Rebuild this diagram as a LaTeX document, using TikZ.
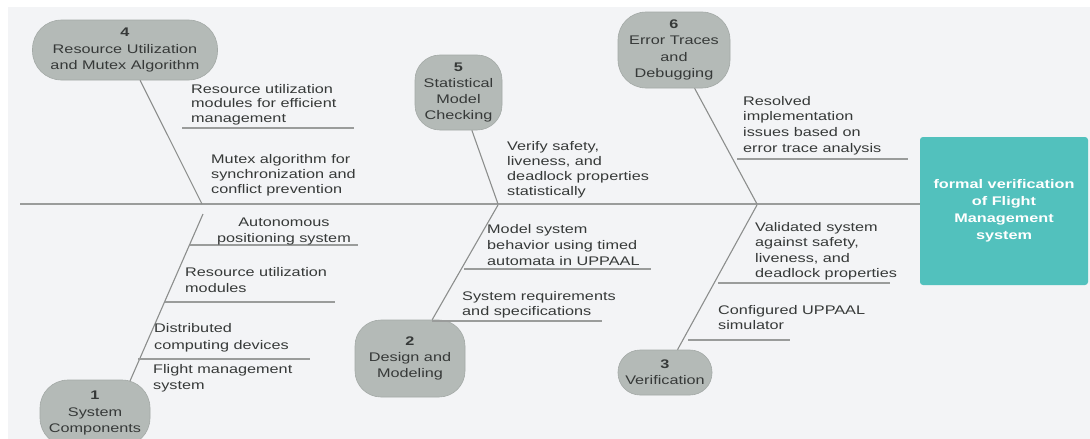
\documentclass[tikz,border=0pt]{standalone}
\usepackage{fontspec}
\setmainfont{Liberation Sans}[FakeStretch=1.3]
\definecolor{bgcol}{HTML}{F3F4F6}
\definecolor{nodefill}{HTML}{B4BAB7}
\definecolor{nodeedge}{HTML}{A3A9A6}
\definecolor{txtcol}{HTML}{363938}
\definecolor{headteal}{HTML}{52C1BD}
\definecolor{bonecol}{HTML}{8C8E8D}
\definecolor{subcol}{HTML}{9A9C9B}
\newcommand\ltab[1]{\begin{tabular}[t]{@{}l@{}}#1\end{tabular}}
\newcommand\ctab[1]{\begin{tabular}[t]{@{}c@{}}#1\end{tabular}}
\tikzset{
  cat/.style={fill=nodefill, draw=nodeedge, line width=0.6pt, text=txtcol, align=center,
    inner sep=0pt, font=\fontsize{12.5}{16.2}\selectfont},
  lbl/.style={inner sep=0pt, text=txtcol, font=\fontsize{12.5}{15.5}\selectfont},
  spine/.style={draw=subcol, line width=1.5pt},
  bone/.style={draw=bonecol, line width=1.1pt},
  sub/.style={draw=subcol, line width=1.3pt},
}
\begin{document}
\begin{tikzpicture}[x=1pt,y=-1pt]
\useasboundingbox (0,0) rectangle (1090,439);
\clip (0,0) rectangle (1090,439);
\fill[bgcol] (8,7) rectangle (1090,439);

% head
\node[fill=headteal, rounded corners=3pt, minimum width=168pt, minimum height=148pt, inner sep=0pt,
  text=white, align=center, font=\fontsize{12.5}{17}\selectfont\bfseries] (head) at (1004,211)
  {formal verification\\of Flight\\Management\\system};

% category nodes
\node[cat, minimum width=185pt, minimum height=60pt, rounded corners=29pt] (n4) at (125,50)
  {\textbf{4}\\Resource Utilization\\and Mutex Algorithm};
\node[cat, minimum width=87pt, minimum height=75pt, rounded corners=25pt] (n5) at (458.5,92.5)
  {\textbf{5}\\Statistical\\Model\\Checking};
\node[cat, minimum width=112pt, minimum height=76pt, rounded corners=28pt] (n6) at (674,50)
  {\textbf{6}\\Error Traces\\and\\Debugging};
\node[cat, minimum width=110pt, minimum height=66pt, rounded corners=28pt] (n1) at (95,413)
  {\textbf{1}\\System\\Components};
\node[cat, minimum width=110pt, minimum height=77pt, rounded corners=26pt] (n2) at (410,358.5)
  {\textbf{2}\\Design and\\Modeling};
\node[cat, minimum width=94pt, minimum height=45pt, rounded corners=22pt] (n3) at (665,372.5)
  {\textbf{3}\\Verification};

% spine
\coordinate (s0) at (20,204);
\draw[spine] (s0) -- (s0 -| head.west);

% bones
\coordinate (j4) at (202,204);
\coordinate (j5) at (498,204);
\coordinate (j6) at (757,204);
\coordinate (j1) at (203,214);
\coordinate (b1) at (130,381);
\coordinate (j2) at (498,205);
\coordinate (j3) at (757,205);
\draw[bone] (j4) -- (n4);
\draw[bone] (j5) -- (n5);
\draw[bone] (j6) -- (n6);
\draw[bone] (j1) -- (b1);
\draw[bone] (j2) -- (n2);
\draw[bone] (j3) -- (n3);

% sub-bone underlines
\draw[sub] (182,128) -- (354,128);
\draw[sub] (737,159) -- (908,159);
\draw[sub] (190,245) -- (358,245);
\draw[sub] (165,302) -- (335,302);
\draw[sub] (138,359) -- (310,359);
\draw[sub] (464,269) -- (651,269);
\draw[sub] (432,321) -- (602,321);
\draw[sub] (718,283) -- (890,283);
\draw[sub] (688,340) -- (790,340);

% labels
\node[lbl, anchor=base west, font=\fontsize{12.5}{14.5}\selectfont] (t4a) at (191,93)
  {\ltab{Resource utilization\\modules for efficient\\management}};
\node[lbl, anchor=base west, font=\fontsize{12.5}{15}\selectfont] (t4b) at (211,163)
  {\ltab{Mutex algorithm for\\synchronization and\\conflict prevention}};
\node[lbl, anchor=base west, font=\fontsize{12.5}{15}\selectfont] (t5) at (507,150)
  {\ltab{Verify safety,\\liveness, and\\deadlock properties\\statistically}};
\node[lbl, anchor=base west, font=\fontsize{12.5}{15.7}\selectfont] (t6) at (743,105)
  {\ltab{Resolved\\implementation\\issues based on\\error trace analysis}};
\node[lbl, anchor=base, font=\fontsize{12.5}{16.5}\selectfont] (t1a) at (284,226)
  {\ctab{Autonomous\\positioning system}};
\node[lbl, anchor=base west, font=\fontsize{12.5}{16.5}\selectfont] (t1b) at (185,276)
  {\ltab{Resource utilization\\modules}};
\node[lbl, anchor=base west, font=\fontsize{12.5}{17}\selectfont] (t1c) at (154,332)
  {\ltab{Distributed\\computing devices}};
\node[lbl, anchor=base west, font=\fontsize{12.5}{16.5}\selectfont] (t1d) at (153,373)
  {\ltab{Flight management\\system}};
\node[lbl, anchor=base west, font=\fontsize{12.5}{16}\selectfont] (t2a) at (487,233)
  {\ltab{Model system\\behavior using timed\\automata in UPPAAL}};
\node[lbl, anchor=base west, font=\fontsize{12.5}{15}\selectfont] (t2b) at (462,300)
  {\ltab{System requirements\\and specifications}};
\node[lbl, anchor=base west, font=\fontsize{12.5}{15.5}\selectfont] (t3a) at (755,231)
  {\ltab{Validated system\\against safety,\\liveness, and\\deadlock properties}};
\node[lbl, anchor=base west, font=\fontsize{12.5}{15}\selectfont] (t3b) at (718,314)
  {\ltab{Configured UPPAAL\\simulator}};
\end{tikzpicture}
\end{document}
